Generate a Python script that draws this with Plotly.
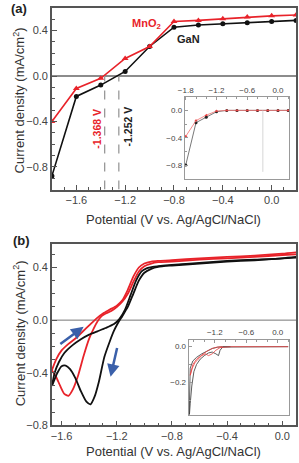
import plotly.graph_objects as go

W, H = 299, 463

# ---------------- Panel (a): LSV data ----------------
pot_a = [-1.8, -1.6, -1.4, -1.2, -1.0, -0.8, -0.6, -0.4, -0.2, 0.0, 0.2]
gan_a = [-0.88, -0.18, -0.08, 0.04, 0.26, 0.43, 0.45, 0.46, 0.47, 0.48, 0.49]
mno2_a = [-0.40, -0.11, -0.02, 0.155, 0.26, 0.48, 0.49, 0.505, 0.52, 0.53, 0.537]
onset_mno2 = -1.368
onset_gan = -1.252

# inset (a)
gan_a_inset = [-0.80, -0.18, -0.10, -0.02, 0.0, 0.0, 0.0, 0.0, 0.0, 0.0, 0.0]
mno2_a_inset = [-0.38, -0.15, -0.07, -0.01, 0.0, 0.0, 0.0, 0.0, 0.0, 0.0, 0.0]
inset_a_vline = -0.295

# ---------------- Panel (b): CV data ----------------
red_cat_x = [0.10, 0.00, -0.20, -0.40, -0.60, -0.80, -0.90, -0.95, -1.00, -1.04, -1.08, -1.12,
             -1.16, -1.20, -1.24, -1.28, -1.31, -1.34, -1.37, -1.40, -1.44, -1.48, -1.52, -1.55,
             -1.58, -1.61, -1.64, -1.67]
red_cat_y = [0.50, 0.495, 0.48, 0.47, 0.46, 0.445, 0.44, 0.43, 0.41, 0.37, 0.29, 0.20,
             0.14, 0.10, 0.07, 0.05, 0.03, -0.01, -0.07, -0.14, -0.27, -0.42, -0.53, -0.575,
             -0.56, -0.50, -0.43, -0.38]
red_an_x = [-1.67, -1.64, -1.60, -1.55, -1.50, -1.45, -1.40, -1.35, -1.30, -1.25, -1.20, -1.16,
            -1.12, -1.08, -1.04, -1.00, -0.95, -0.90, -0.80, -0.60, -0.40, -0.20, 0.00, 0.10]
red_an_y = [-0.38, -0.30, -0.23, -0.18, -0.14, -0.09, -0.04, 0.01, 0.05, 0.08, 0.11, 0.15,
            0.23, 0.33, 0.40, 0.43, 0.445, 0.45, 0.455, 0.47, 0.48, 0.49, 0.505, 0.515]
blk_cat_x = [0.10, 0.00, -0.20, -0.40, -0.60, -0.80, -0.90, -0.95, -1.00, -1.04, -1.08, -1.12,
             -1.16, -1.19, -1.22, -1.25, -1.29, -1.33, -1.36, -1.39, -1.42, -1.46, -1.50, -1.54,
             -1.57, -1.60, -1.63, -1.67]
blk_cat_y = [0.475, 0.47, 0.455, 0.445, 0.43, 0.415, 0.405, 0.39, 0.36, 0.30, 0.20, 0.10,
             0.03, -0.02, -0.08, -0.16, -0.28, -0.47, -0.58, -0.64, -0.62, -0.54, -0.44, -0.37,
             -0.345, -0.35, -0.40, -0.50]
blk_an_x = [-1.67, -1.65, -1.62, -1.58, -1.52, -1.46, -1.40, -1.34, -1.28, -1.22, -1.18, -1.14,
            -1.10, -1.06, -1.02, -0.98, -0.94, -0.90, -0.80, -0.60, -0.40, -0.20, 0.00, 0.10]
blk_an_y = [-0.50, -0.40, -0.32, -0.25, -0.19, -0.145, -0.11, -0.085, -0.06, -0.03, 0.01, 0.08,
            0.19, 0.30, 0.37, 0.395, 0.405, 0.41, 0.42, 0.435, 0.45, 0.46, 0.47, 0.48]

# inset (b)
blk_in_cat_x = [0.2, -0.4, -0.9, -1.05, -1.10, -1.13, -1.18, -1.25, -1.32, -1.40, -1.48, -1.55,
                -1.60, -1.64, -1.67, -1.69]
blk_in_cat_y = [0.0, 0.0, 0.0, -0.002, -0.02, -0.05, -0.04, -0.03, -0.035, -0.05, -0.07, -0.10,
                -0.14, -0.22, -0.32, -0.40]
blk_in_an_x = [-1.69, -1.67, -1.62, -1.55, -1.45, -1.35, -1.25, -1.15, -1.05, -0.9]
blk_in_an_y = [-0.40, -0.12, -0.08, -0.06, -0.04, -0.025, -0.01, -0.003, 0.0, 0.0]
red_in_cat_x = [0.2, -0.4, -0.9, -1.10, -1.18, -1.25, -1.32, -1.38, -1.45, -1.52, -1.58, -1.63, -1.67]
red_in_cat_y = [0.0, 0.0, 0.0, -0.005, -0.02, -0.04, -0.05, -0.04, -0.05, -0.07, -0.09, -0.12, -0.16]
red_in_an_x = [-1.67, -1.62, -1.55, -1.45, -1.35, -1.25, -1.15, -1.05]
red_in_an_y = [-0.16, -0.10, -0.07, -0.045, -0.025, -0.01, -0.002, 0.0]

RED = "#e8232a"
BLK = "#111111"
BLUE = "#3b60aa"
FONT = "Liberation Sans, Arial, sans-serif"


def px(x):
    return x / W


def py(y):
    return 1 - y / H


fig = go.Figure()

# Panel (a)
fig.add_trace(go.Scatter(x=pot_a, y=gan_a, mode="lines+markers", xaxis="x", yaxis="y",
                         line=dict(color=BLK, width=1.6), marker=dict(symbol="circle", size=5, color=BLK)))
fig.add_trace(go.Scatter(x=pot_a, y=mno2_a, mode="lines+markers", xaxis="x", yaxis="y",
                         line=dict(color=RED, width=1.6), marker=dict(symbol="triangle-up", size=6, color=RED)))
# inset (a)
fig.add_trace(go.Scatter(x=pot_a, y=gan_a_inset, mode="lines+markers", xaxis="x3", yaxis="y3",
                         line=dict(color="#555", width=0.8), marker=dict(symbol="circle", size=3, color="#222")))
fig.add_trace(go.Scatter(x=pot_a, y=mno2_a_inset, mode="lines+markers", xaxis="x3", yaxis="y3",
                         line=dict(color="#f07070", width=0.8), marker=dict(symbol="triangle-up", size=3, color="#e84040")))

# Panel (b)
for xs, ys, c in [(red_cat_x, red_cat_y, RED), (red_an_x, red_an_y, RED),
                  (blk_cat_x, blk_cat_y, BLK), (blk_an_x, blk_an_y, BLK)]:
    fig.add_trace(go.Scatter(x=xs, y=ys, mode="lines", xaxis="x2", yaxis="y2",
                             line=dict(color=c, width=1.8, shape="spline", smoothing=0.6)))
# inset (b)
for xs, ys, c in [(blk_in_cat_x, blk_in_cat_y, "#333"), (blk_in_an_x, blk_in_an_y, "#333"),
                  (red_in_cat_x, red_in_cat_y, "#e84040"), (red_in_an_x, red_in_an_y, "#e84040")]:
    fig.add_trace(go.Scatter(x=xs, y=ys, mode="lines", xaxis="x4", yaxis="y4",
                             line=dict(color=c, width=0.8)))

axis_common = dict(showline=True, linecolor="#555", linewidth=1.5, mirror=True, ticks="inside",
                   ticklen=5, tickwidth=1, tickcolor="#555", showgrid=False, zeroline=False,
                   tickfont=dict(size=11, color="#444", family=FONT),
                   minor=dict(ticks="inside", ticklen=3, tickcolor="#555", dtick=0.1))
inset_common = dict(showline=True, linecolor="#999", linewidth=1, mirror=True, ticks="inside",
                    ticklen=3, tickwidth=1, tickcolor="#999", showgrid=False, zeroline=False,
                    tickfont=dict(size=8, color="#444", family=FONT))

fig.update_layout(
    width=W, height=H, margin=dict(l=0, r=0, t=0, b=0),
    paper_bgcolor="white", plot_bgcolor="rgba(0,0,0,0)", showlegend=False,
    font=dict(family=FONT),
    xaxis=dict(axis_common, domain=[px(46), px(296)], range=[-1.8, 0.2], dtick=0.4, tick0=0,
               tickformat=".1f", anchor="y"),
    yaxis=dict(axis_common, domain=[py(192), py(8)], range=[-1.0, 0.6], dtick=0.4, tick0=0,
               tickformat=".1f", anchor="x"),
    xaxis2=dict(axis_common, domain=[px(46), px(296)], range=[-1.67, 0.1], dtick=0.4, tick0=0,
                tickformat=".1f", anchor="y2"),
    yaxis2=dict(axis_common, domain=[py(431), py(247)], range=[-0.8, 0.58], dtick=0.4, tick0=0,
                tickformat=".1f", anchor="x2"),
    xaxis3=dict(inset_common, domain=[px(182), px(289)], range=[-1.82, 0.22], dtick=0.6, tick0=0,
                tickformat=".1f", side="top", anchor="y3",
                minor=dict(ticks="inside", ticklen=2, tickcolor="#999", dtick=0.2)),
    yaxis3=dict(inset_common, domain=[py(181), py(98)], range=[-1.0, 0.2], dtick=0.4, tick0=0,
                tickformat=".1f", anchor="x3",
                minor=dict(ticks="inside", ticklen=2, tickcolor="#999", dtick=0.2)),
    xaxis4=dict(inset_common, domain=[px(186), px(289)], range=[-1.7, 0.22], dtick=0.6, tick0=0,
                tickformat=".1f", side="top", anchor="y4",
                minor=dict(ticks="inside", ticklen=2, tickcolor="#999", dtick=0.2)),
    yaxis4=dict(inset_common, domain=[py(420), py(344)], range=[-0.38, 0.04], dtick=0.2, tick0=0,
                tickformat=".1f", anchor="x4",
                minor=dict(ticks="inside", ticklen=2, tickcolor="#999", dtick=0.1)),
)

shapes = [
    dict(type="line", xref="x", yref="y", x0=-1.8, x1=0.2, y0=0, y1=0,
         line=dict(color="#666", width=1.5), layer="below"),
    dict(type="line", xref="x2", yref="y2", x0=-1.67, x1=0.1, y0=0, y1=0,
         line=dict(color="#777", width=1), layer="below"),
    dict(type="line", xref="x", yref="y", x0=onset_mno2, x1=onset_mno2, y0=-1.0, y1=0,
         line=dict(color="#999", width=1.3, dash="dash")),
    dict(type="line", xref="x", yref="y", x0=onset_gan, x1=onset_gan, y0=-1.0, y1=0,
         line=dict(color="#999", width=1.3, dash="dash")),
    dict(type="line", xref="x3", yref="y3", x0=inset_a_vline, x1=inset_a_vline, y0=-0.9, y1=0,
         line=dict(color="#ccc", width=0.8)),
]
fig.update_layout(shapes=shapes)

ann = []


def text(x, y, s, size=13, color="#333", bold=False, angle=0):
    ann.append(dict(x=px(x), y=py(y), xref="paper", yref="paper", text=(f"<b>{s}</b>" if bold else s),
                    showarrow=False, xanchor="center", yanchor="middle", textangle=angle,
                    font=dict(size=size, color=color, family=FONT)))


text(12, 9, "(a)", size=13, color="#222", bold=True)
text(15, 244, "(b)", size=13, color="#222", bold=True)
text(12, 102, "Current density (mA/cm<sup>2</sup>)", size=13, angle=-90)
text(12, 338, "Current density (mA/cm<sup>2</sup>)", size=13, angle=-90)
text(171, 222, "Potential (V vs. Ag/AgCl/NaCl)", size=13)
text(171, 457, "Potential (V vs. Ag/AgCl/NaCl)", size=13)
text(143, 24, "MnO<sub>2</sub>", size=11, color=RED, bold=True)
text(186, 40, "GaN", size=11, color="#222", bold=True)
text(92.5, 130, f"{onset_mno2:.3f} V", size=10.5, color=RED, bold=True, angle=-90)
text(124, 128, f"{onset_gan:.3f} V", size=10.5, color="#222", bold=True, angle=-90)

# blue sweep-direction arrows
ann.append(dict(x=-1.44, y=-0.05, ax=-1.62, ay=-0.19, xref="x2", yref="y2", axref="x2", ayref="y2",
                showarrow=True, arrowhead=2, arrowsize=1, arrowwidth=2.5, arrowcolor=BLUE, text=""))
ann.append(dict(x=-1.245, y=-0.43, ax=-1.195, ay=-0.20, xref="x2", yref="y2", axref="x2", ayref="y2",
                showarrow=True, arrowhead=2, arrowsize=1, arrowwidth=2.5, arrowcolor=BLUE, text=""))
fig.update_layout(annotations=ann)

fig.write_html("out.html")
